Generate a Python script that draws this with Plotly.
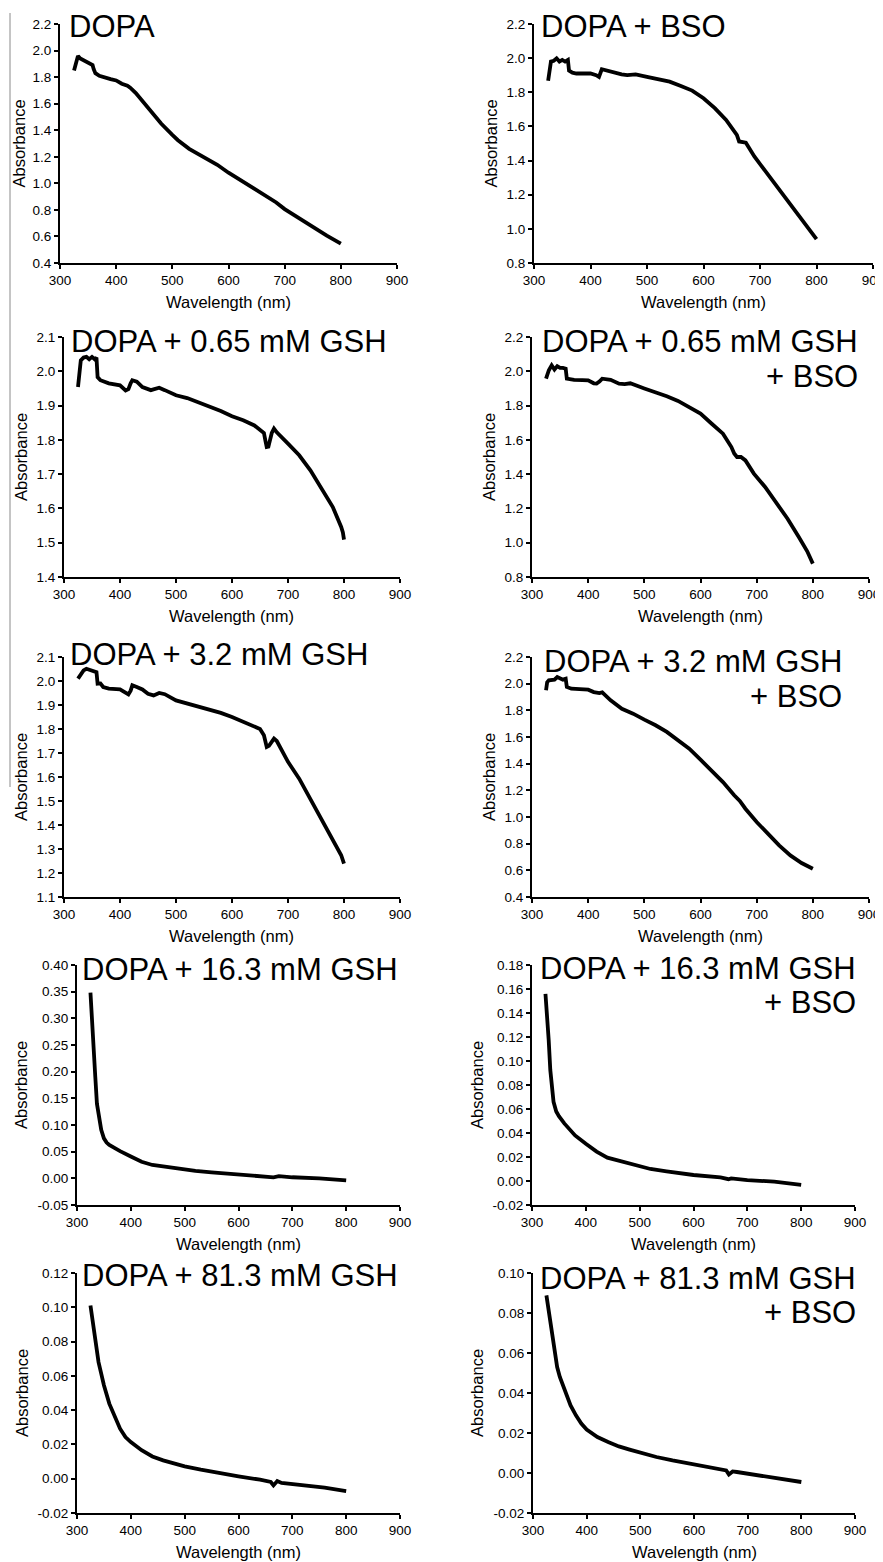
import plotly.graph_objects as go

# ---------------- data ----------------
titles = [
    ["DOPA"],
    ["DOPA + BSO"],
    ["DOPA + 0.65 mM GSH"],
    ["DOPA + 0.65 mM GSH", "+ BSO"],
    ["DOPA + 3.2 mM GSH"],
    ["DOPA + 3.2 mM GSH", "+ BSO"],
    ["DOPA + 16.3 mM GSH"],
    ["DOPA + 16.3 mM GSH", "+ BSO"],
    ["DOPA + 81.3 mM GSH"],
    ["DOPA + 81.3 mM GSH", "+ BSO"],
]
x_title = "Wavelength (nm)"
y_title = "Absorbance"

wl_dopa = [325, 327, 330, 332, 336, 340, 345, 350, 355, 358, 360, 363, 370, 380, 390, 400, 410, 420, 425, 435,
           450, 465, 480, 500, 510, 530, 555, 580, 600, 625, 650, 670, 685, 700, 730, 750, 775, 800]
ab_dopa = [1.85, 1.88, 1.93, 1.96, 1.94, 1.93, 1.92, 1.91, 1.90, 1.89, 1.86, 1.83, 1.81, 1.795, 1.785, 1.775,
           1.75, 1.735, 1.72, 1.68, 1.60, 1.52, 1.45, 1.365, 1.325, 1.26, 1.20, 1.14, 1.08, 1.015, 0.952, 0.894,
           0.856, 0.806, 0.726, 0.668, 0.606, 0.546]

wl_bso = [325, 327, 330, 335, 340, 345, 350, 355, 360, 362, 368, 375, 390, 400, 410, 415, 420, 425, 440, 455,
          465, 480, 500, 520, 540, 560, 580, 600, 620, 640, 655, 659, 663, 670, 675, 690, 710, 730, 750, 770,
          785, 800]
ab_bso = [1.867, 1.93, 1.98, 1.985, 1.999, 1.98, 1.99, 1.98, 1.99, 1.927, 1.915, 1.91, 1.912, 1.91, 1.90, 1.89,
          1.935, 1.93, 1.92, 1.905, 1.90, 1.905, 1.89, 1.875, 1.862, 1.837, 1.81, 1.765, 1.707, 1.638, 1.57,
          1.55, 1.512, 1.51, 1.505, 1.424, 1.336, 1.249, 1.16, 1.075, 1.01, 0.94]

wl_g065 = [325, 327, 330, 335, 340, 345, 350, 355, 358, 360, 365, 380, 395, 400, 410, 415, 419, 422, 430, 440,
           455, 470, 480, 500, 520, 540, 560, 580, 600, 620, 640, 650, 657, 660, 662, 665, 668, 671, 675, 680,
           700, 720, 740, 760, 780, 795, 798, 800]
ab_g065 = [1.954, 1.99, 2.032, 2.04, 2.042, 2.035, 2.042, 2.035, 2.04, 1.983, 1.974, 1.965, 1.962, 1.959, 1.944,
           1.948, 1.965, 1.974, 1.97, 1.954, 1.945, 1.952, 1.945, 1.93, 1.922, 1.91, 1.896, 1.884, 1.869, 1.857,
           1.842, 1.83, 1.82, 1.795, 1.779, 1.78, 1.80, 1.82, 1.833, 1.822, 1.789, 1.755, 1.711, 1.658, 1.604,
           1.546, 1.53, 1.509]

wl_g065b = [325, 327, 330, 335, 340, 345, 350, 355, 360, 362, 375, 390, 400, 410, 415, 420, 425, 440, 455, 465,
            475, 500, 520, 540, 560, 580, 600, 620, 640, 655, 660, 665, 672, 680, 695, 715, 735, 755, 775, 790, 800]
ab_g065b = [1.957, 1.98, 2.006, 2.035, 2.01, 2.03, 2.02, 2.02, 2.015, 1.957, 1.95, 1.948, 1.947, 1.93, 1.928,
            1.94, 1.957, 1.95, 1.928, 1.925, 1.93, 1.90, 1.879, 1.854, 1.827, 1.792, 1.753, 1.694, 1.636, 1.558,
            1.52, 1.50, 1.50, 1.48, 1.403, 1.325, 1.228, 1.14, 1.033, 0.95, 0.878]

wl_g32 = [325, 330, 335, 340, 345, 350, 355, 358, 360, 365, 370, 380, 400, 410, 415, 419, 422, 430, 440, 450,
          460, 470, 480, 500, 520, 540, 560, 580, 600, 620, 640, 650, 657, 660, 662, 666, 670, 675, 680, 700,
          720, 740, 760, 780, 795, 800]
ab_g32 = [2.01, 2.024, 2.044, 2.051, 2.047, 2.044, 2.04, 2.037, 1.989, 1.99, 1.975, 1.968, 1.965, 1.95, 1.944,
          1.96, 1.982, 1.975, 1.965, 1.947, 1.94, 1.95, 1.945, 1.919, 1.906, 1.894, 1.88, 1.867, 1.85, 1.829,
          1.811, 1.80, 1.774, 1.745, 1.725, 1.73, 1.746, 1.76, 1.75, 1.663, 1.593, 1.51, 1.419, 1.336, 1.274, 1.239]

wl_g32b = [325, 327, 330, 335, 340, 345, 350, 355, 360, 362, 370, 380, 400, 410, 420, 425, 440, 460, 480, 500,
           520, 540, 560, 580, 600, 620, 640, 660, 670, 680, 700, 720, 740, 760, 780, 800]
ab_g32b = [1.95, 2.01, 2.025, 2.03, 2.03, 2.05, 2.04, 2.03, 2.037, 1.975, 1.962, 1.96, 1.955, 1.937, 1.93, 1.935,
           1.875, 1.812, 1.775, 1.73, 1.688, 1.638, 1.575, 1.512, 1.43, 1.35, 1.262, 1.163, 1.12, 1.062, 0.962,
           0.875, 0.787, 0.712, 0.655, 0.612]

wl_g163 = [325, 328, 331, 334, 337, 341, 345, 350, 355, 360, 370, 380, 400, 420, 440, 460, 480, 500, 520, 550,
           600, 650, 665, 675, 700, 750, 780, 800]
ab_g163 = [0.348, 0.303, 0.247, 0.19, 0.14, 0.109, 0.091, 0.075, 0.067, 0.0625, 0.056, 0.051, 0.041, 0.031,
           0.025, 0.022, 0.019, 0.016, 0.014, 0.011, 0.0075, 0.0044, 0.002, 0.004, 0.002, 0.0, -0.003, -0.004]

wl_g163b = [325, 328, 331, 334, 337, 340, 345, 350, 360, 370, 380, 400, 420, 440, 460, 480, 500, 520, 550, 600,
            650, 660, 665, 670, 700, 750, 780, 800]
ab_g163b = [0.156, 0.14, 0.1175, 0.0925, 0.076, 0.066, 0.058, 0.054, 0.048, 0.0425, 0.038, 0.031, 0.0245,
            0.0195, 0.017, 0.015, 0.012, 0.01, 0.008, 0.005, 0.003, 0.0025, 0.0015, 0.0022, 0.0008, -0.0006,
            -0.0025, -0.0033]

wl_g813 = [325, 330, 335, 340, 345, 350, 360, 370, 380, 390, 400, 420, 440, 460, 480, 500, 530, 560, 600, 640,
           660, 665, 672, 680, 720, 760, 800]
ab_g813 = [0.101, 0.0904, 0.0768, 0.068, 0.0613, 0.0545, 0.0438, 0.036, 0.0292, 0.0243, 0.0214, 0.0166, 0.013,
           0.0107, 0.0088, 0.0072, 0.0053, 0.0035, 0.0014, -0.0006, -0.0019, -0.0039, -0.0014, -0.0025, -0.0039,
           -0.0052, -0.0072]

wl_g813b = [325, 330, 335, 340, 345, 350, 360, 370, 380, 390, 400, 420, 440, 460, 480, 500, 530, 560, 600, 640,
            660, 665, 672, 680, 720, 760, 800]
ab_g813b = [0.0888, 0.0797, 0.068, 0.0597, 0.053, 0.048, 0.0405, 0.0338, 0.0288, 0.0247, 0.0217, 0.018, 0.0155,
            0.0133, 0.0117, 0.0102, 0.008, 0.0063, 0.0043, 0.0025, 0.0013, -0.0007, 0.0008, 0.0005, -0.0012,
            -0.0028, -0.0045]

series_wl = [wl_dopa, wl_bso, wl_g065, wl_g065b, wl_g32, wl_g32b, wl_g163, wl_g163b, wl_g813, wl_g813b]
series_ab = [ab_dopa, ab_bso, ab_g065, ab_g065b, ab_g32, ab_g32b, ab_g163, ab_g163b, ab_g813, ab_g813b]

x_ticks = [300, 400, 500, 600, 700, 800, 900]
# y axis: (min, max, step, decimals)
y_axes = [
    (0.4, 2.2, 0.2, 1), (0.8, 2.2, 0.2, 1),
    (1.4, 2.1, 0.1, 1), (0.8, 2.2, 0.2, 1),
    (1.1, 2.1, 0.1, 1), (0.4, 2.2, 0.2, 1),
    (-0.05, 0.40, 0.05, 2), (-0.02, 0.18, 0.02, 2),
    (-0.02, 0.12, 0.02, 2), (-0.02, 0.10, 0.02, 2),
]

# ---------------- layout geometry (page pixels) ----------------
PAGE_W, PAGE_H = 883, 1562
OFF = 8  # default body margin of the html page
W, H = PAGE_W, PAGE_H - OFF


def px(v):
    return (v - OFF) / W


def py(v):
    return 1 - (v - OFF) / H


boxes = [  # x0, x1, y0(top), y1(bottom)
    (60, 397, 24, 263), (534, 873, 24, 263),
    (64, 400, 337, 577), (532, 869, 337, 577),
    (64, 400, 657, 897), (532, 869, 657, 897),
    (77, 400, 965, 1205), (532, 855, 965, 1205),
    (77, 400, 1273, 1513), (533, 855, 1273, 1513),
]
# y-title offset (px left of axis line)
ytitle_off = [42, 44, 43, 43, 43, 43, 56, 55, 55, 56]
# title anchor: (x, side, baseline line1, baseline line2)
title_pos = [
    (68, "left", 37, None), (540, "left", 37, None),
    (70, "left", 352, None), (859, "right", 352, 387),
    (69, "left", 665, None), (843, "right", 672, 707),
    (81, "left", 980, None), (857, "right", 979, 1013),
    (81, "left", 1286, None), (857, "right", 1289, 1323),
]

FONT = "Arial, Liberation Sans, sans-serif"
TITLE_FS = 31
AX_FS = 16.5
TICK_FS = 13.5

fig = go.Figure()
layout = dict(
    width=W, height=H, margin=dict(l=0, r=0, t=0, b=0, autoexpand=False),
    paper_bgcolor="white", plot_bgcolor="white", showlegend=False,
    font=dict(family=FONT, color="black"),
)
annotations = []

for i in range(10):
    x0, x1, y0, y1 = boxes[i]
    sfx = "" if i == 0 else str(i + 1)
    ymin, ymax, step, dec = y_axes[i]
    n = int(round((ymax - ymin) / step))
    yvals = [round(ymin + k * step, 4) for k in range(n + 1)]
    ytext = [f"{v:.{dec}f}" for v in yvals]

    fig.add_trace(go.Scatter(
        x=series_wl[i], y=series_ab[i], mode="lines",
        line=dict(color="black", width=3.8),
        xaxis="x" + sfx, yaxis="y" + sfx, hoverinfo="skip",
    ))

    common = dict(
        showline=True, linecolor="black", linewidth=2, ticks="outside", ticklen=4,
        tickwidth=1.5, tickcolor="black", showgrid=False, zeroline=False, automargin=False,
        ticklabeloverflow="allow",
        tickfont=dict(size=TICK_FS, family=FONT, color="black"),
    )
    layout["xaxis" + sfx] = dict(
        domain=[px(x0), px(x1)], anchor="y" + sfx, range=[300, 900],
        tickmode="array", tickvals=x_ticks, ticktext=[str(v) for v in x_ticks], **common)
    layout["yaxis" + sfx] = dict(
        domain=[py(y1), py(y0)], anchor="x" + sfx, range=[ymin, ymax],
        tickmode="array", tickvals=yvals, ticktext=ytext, **common)

    # axis titles
    annotations.append(dict(
        text=x_title, xref="paper", yref="paper", x=px((x0 + x1) / 2), y=py(y1 + 39),
        xanchor="center", yanchor="middle", showarrow=False, borderpad=0,
        font=dict(size=AX_FS, family=FONT, color="black")))
    annotations.append(dict(
        text=y_title, xref="paper", yref="paper", x=px(x0 - ytitle_off[i]), y=py((y0 + y1) / 2),
        xanchor="center", yanchor="middle", textangle=-90, showarrow=False, borderpad=0,
        font=dict(size=AX_FS, family=FONT, color="black")))

    # panel titles
    tx, side, b1, b2 = title_pos[i]
    baselines = [b1] + ([b2] if b2 is not None else [])
    for txt, bl in zip(titles[i], baselines):
        annotations.append(dict(
            text=txt, xref="paper", yref="paper", x=px(tx),
            y=py(bl - 0.347 * TITLE_FS), xanchor=side, yanchor="middle",
            showarrow=False, borderpad=0, align=side,
            font=dict(size=TITLE_FS, family=FONT, color="black"),
        ))

layout["annotations"] = annotations
layout["shapes"] = [dict(type="line", xref="paper", yref="paper",
                         x0=px(10), x1=px(10), y0=py(13), y1=py(787),
                         line=dict(color="#8a8a8a", width=1))]
fig.update_layout(**layout)
fig.write_html("out.html")
